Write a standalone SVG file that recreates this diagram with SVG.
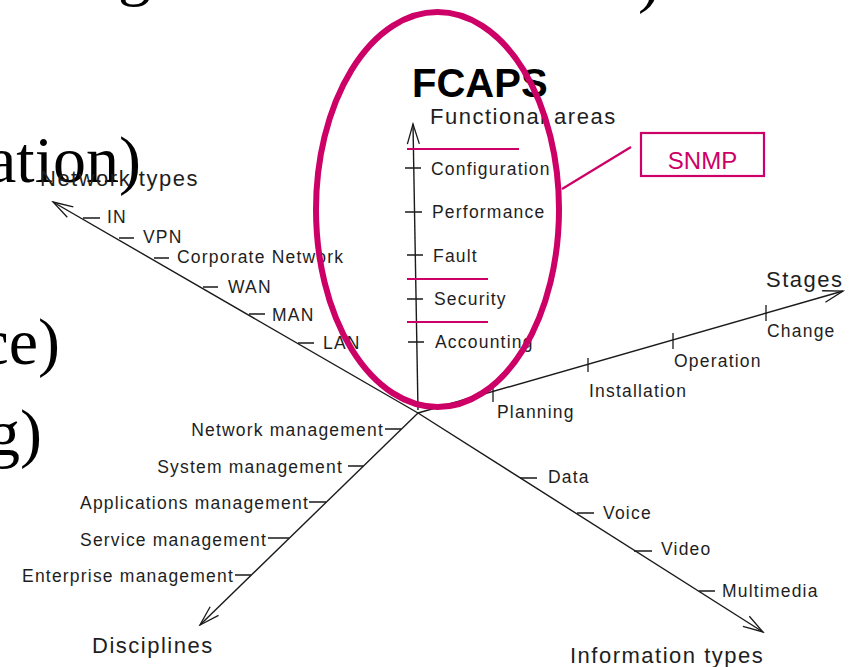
<svg xmlns="http://www.w3.org/2000/svg" width="852" height="667" viewBox="0 0 852 667">
<defs>
<style>
.bg{font-family:"Liberation Serif","Times New Roman",serif;font-size:66px;fill:#000}
.ax{stroke:#1a1a1a;stroke-width:1.4;fill:none}
.tk{stroke:#1a1a1a;stroke-width:1.3;fill:none}
.it{font-family:"Liberation Sans",Arial,sans-serif;font-size:17.5px;letter-spacing:1.2px;fill:#1e1e1e}
.ti{font-family:"Liberation Sans",Arial,sans-serif;font-size:22px;letter-spacing:1.5px;fill:#1e1e1e}
.mg{stroke:#CC0066;fill:none}
</style>
<marker id="arr" markerUnits="userSpaceOnUse" markerWidth="24" markerHeight="16" viewBox="-22 -8 24 16" refX="0" refY="0" orient="auto">
<path d="M-20,-6 L0,0 L-20,6" fill="none" stroke="#1a1a1a" stroke-width="1.3"/>
</marker>
</defs>
<rect width="852" height="667" fill="#fff"/>

<g id="slide-text">
<text class="bg" x="118" y="-7">g</text>
<text class="bg" x="638" y="0">)</text>
<text class="bg" x="141" y="182" text-anchor="end">ation)</text>
</g>

<g id="connectors">
<line class="ax" x1="418" y1="413" x2="53" y2="202" marker-end="url(#arr)"/>
<line class="ax" x1="418" y1="410" x2="413" y2="124" marker-end="url(#arr)"/>
<line class="ax" x1="418" y1="413" x2="843" y2="291" marker-end="url(#arr)"/>
<line class="ax" x1="418" y1="413" x2="763" y2="632" marker-end="url(#arr)"/>
<line class="ax" x1="418" y1="413" x2="200" y2="625" marker-end="url(#arr)"/>
</g>

<g id="network-types">
<text class="ti" x="40" y="186">Network types</text>
<path class="tk" d="M83,218H100M119,238H134M154,258H169M203,287H218M249,314H265M298,343H314"/>
<text class="it" x="107" y="223">IN</text>
<text class="it" x="143" y="243">VPN</text>
<text class="it" x="177" y="263">Corporate Network</text>
<text class="it" x="228" y="293">WAN</text>
<text class="it" x="272" y="321">MAN</text>
<text class="it" x="323" y="349">LAN</text>
</g>

<g id="functional-areas">
<text class="ti" x="430" y="124" font-size="22.5" letter-spacing="1.75">Functional areas</text>
<path class="tk" d="M405,168H421M405,212H422M407,255H423M407,299H423M408,342H424"/>
<text class="it" x="431" y="175">Configuration</text>
<text class="it" x="432" y="218">Performance</text>
<text class="it" x="433" y="262">Fault</text>
<text class="it" x="434" y="305">Security</text>
<text class="it" x="435" y="348">Accounting</text>
</g>

<g id="stages">
<text class="ti" x="766" y="287" letter-spacing="1.2">Stages</text>
<path class="tk" d="M493,388V402M588,358V372M673,333V349M766,305V321"/>
<text class="it" x="497" y="418">Planning</text>
<text class="it" x="589" y="397">Installation</text>
<text class="it" x="674" y="367">Operation</text>
<text class="it" x="767" y="337">Change</text>
</g>

<g id="disciplines">
<text class="ti" x="92" y="653">Disciplines</text>
<path class="tk" d="M385,429H401M348,466H363M309,502H326M268,538H289M235,575H251"/>
<text class="it" x="384" y="436" text-anchor="end">Network management</text>
<text class="it" x="343" y="473" text-anchor="end">System management</text>
<text class="it" x="309" y="509" text-anchor="end">Applications management</text>
<text class="it" x="267" y="546" text-anchor="end">Service management</text>
<text class="it" x="234" y="582" text-anchor="end">Enterprise management</text>
</g>

<g id="information-types">
<text class="ti" x="570" y="663">Information types</text>
<path class="tk" d="M520,478H537M577,513H594M634,551H652M699,591H715"/>
<text class="it" x="548" y="483">Data</text>
<text class="it" x="603" y="519">Voice</text>
<text class="it" x="661" y="555">Video</text>
<text class="it" x="722" y="597">Multimedia</text>
</g>

<g id="slide-text-2">
<text class="bg" x="60" y="364" text-anchor="end">ce)</text>
<text class="bg" x="42" y="455" text-anchor="end">g)</text>
</g>

<g id="fcaps">
<line class="mg" stroke-width="2.2" x1="407" y1="149" x2="519" y2="149"/>
<line class="mg" stroke-width="2.2" x1="407" y1="279" x2="488" y2="279"/>
<line class="mg" stroke-width="2.2" x1="407" y1="322" x2="488" y2="322"/>
<text x="412" y="97" font-family="Liberation Sans, Arial, sans-serif" font-weight="bold" font-size="40" fill="#000">FCAPS</text>
<ellipse class="mg" stroke-width="6" cx="437.5" cy="209.5" rx="121.5" ry="197.5"/>
</g>

<g id="snmp">
<line class="mg" stroke-width="2.2" x1="631" y1="147" x2="562" y2="189"/>
<rect class="mg" stroke-width="2.2" x="641" y="133" width="123" height="43"/>
<text x="702.5" y="169" text-anchor="middle" font-family="Liberation Sans, Arial, sans-serif" font-size="24" fill="#CC0066">SNMP</text>
</g>
</svg>
